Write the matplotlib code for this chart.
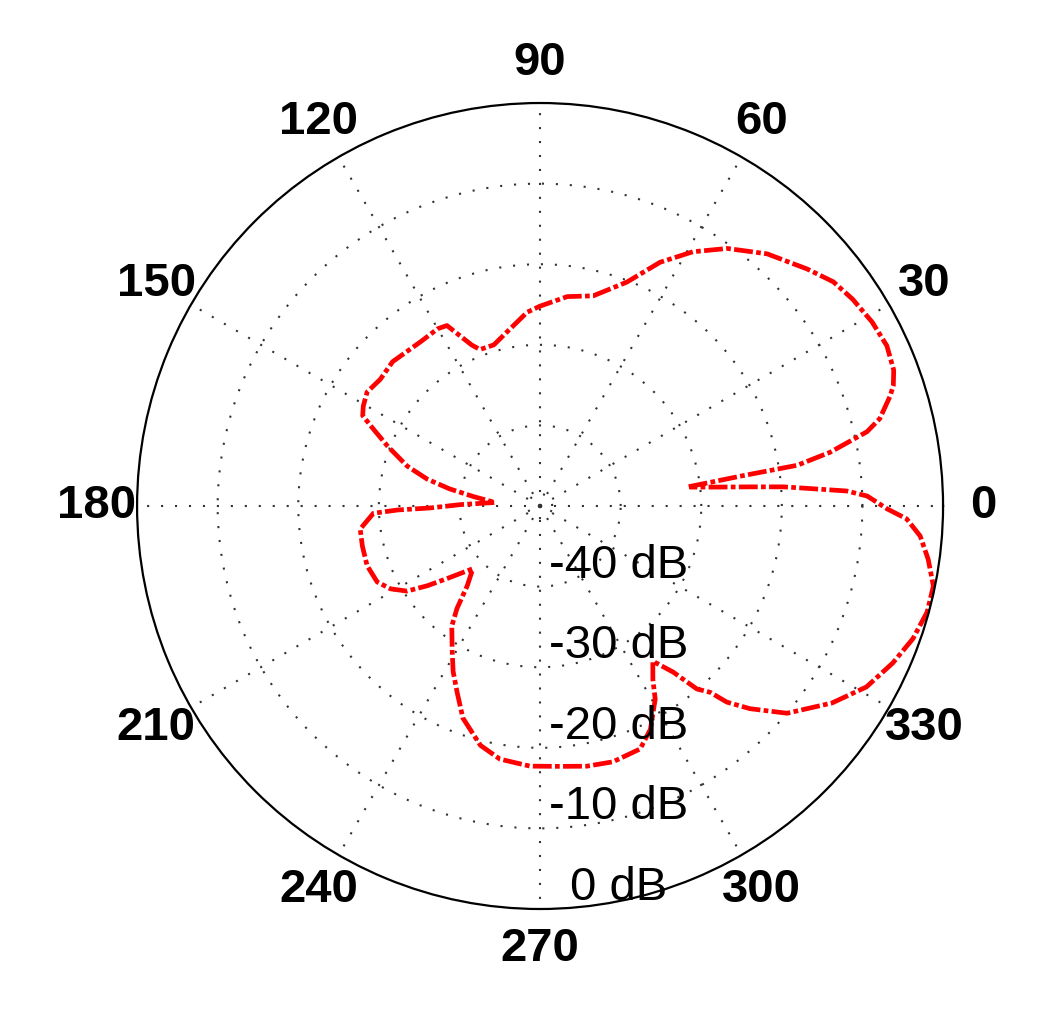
import matplotlib
matplotlib.use("Agg")
import matplotlib.pyplot as plt
import numpy as np

# pattern: angle (deg) and level (dB), in trace order
ang = [7.4, 8.5, 9.0, 10.5, 12.8, 14.4, 17.4, 18.8, 21, 24.8, 29, 33.5, 37.4, 41.6, 48,
       54, 59, 63.8, 68.8, 75.8, 82.6, 90, 93.8, 100.7, 106, 111, 113, 117.3, 120, 126,
       135.6, 141.6, 146.6, 150.5, 153, 155.2, 158.6, 163.3, 166.6, 169.3, 172, 175.5,
       179, 181, 181.6, 182.5, 187.3, 192.7, 199, 205, 209, 212.6, 215.3, 218, 223,
       227.6, 231, 233.7, 238.9, 242.3, 246, 250, 256, 261, 267.8, 274.4, 280.2, 285.9,
       292.4, 296.3, 300.8, 303, 306, 308.7, 310.6, 312.4, 313.6, 316, 320, 326, 331,
       336, 340.4, 344.7, 348.5, 352.2, 355.5, 358, 359.5, 361.75, 362.8, 363.5, 364.5,
       365.2, 366.1, 367.2]
db = [-31.4, -24.6, -17.7, -13.4, -8.4, -6.5, -4.5, -3.7, -3.0, -2.6, -2.9, -3.5, -4.2, -5.7, -7.9,
      -10.5, -13.2, -16.3, -20.2, -23.1, -23.8, -25.2, -25.9, -28.0, -29.2, -29.2, -28.3, -24.8, -24.6, -24.8,
      -24.4, -24.7, -24.3, -24.8, -25.3, -27.2, -29.7, -32.8, -35.6, -38.6, -41.7, -44.4,
      -40.1, -36.4, -32.3, -29.3, -27.5, -27.4, -27.3, -27.7, -28.8, -30.4, -32.9, -35.4, -38.6,
      -36.6, -33.6, -31.5, -28.9, -26.8, -24.7, -22.0, -19.4, -18.2, -17.7, -17.6, -17.2, -17.0,
      -17.4, -19.1, -22.1, -24.3, -26.2, -23.6, -20.1, -18.7, -16.4, -13.8, -10.0, -6.3, -3.7,
      -2.1, -0.9, -0.2, -0.2, -1.4, -2.7, -4.5, -6.9, -9.4, -11.9, -15.5, -19.7,
      -23.8, -27.9, -31.3]

rings = [-48.5, -40, -30, -20, -10]
ring_labels = ["-40 dB", "-30 dB", "-20 dB", "-10 dB", "0 dB"]
ring_vals = [-40, -30, -20, -10, 0]
theta_ticks = list(range(0, 360, 30))

plt.rcParams['font.family'] = ['Liberation Sans', 'DejaVu Sans']

fig = plt.figure(figsize=(10.43, 10.21), dpi=100)
ax = fig.add_axes([0.1314, 0.1097, 0.7728, 0.7894], projection='polar')
ax.set_ylim(-50, 0)
ax.set_rgrids(rings, labels=[''] * len(rings))
ax.set_thetagrids(theta_ticks, labels=[''] * len(theta_ticks))
ax.grid(True, color='#333333', linestyle=(0, (1, 5.7)), linewidth=1.5)
ax.spines['polar'].set_linewidth(1.6)
ax.spines['polar'].set_color('black')

ax.plot(np.deg2rad(ang), db, color='red', linewidth=3.4, linestyle=(0, (4, 0.7, 1, 0.7)))

for a in theta_ticks:
    ax.text(np.deg2rad(a), 5.0, str(a), ha='center', va='center', fontsize=34,
            fontweight='bold', clip_on=False)

# r labels sit just right of the 270 spoke
for v, t in zip(ring_vals, ring_labels):
    rpx = (v + 50) / 50 * 0.5
    ax.text(0.598, 0.5 - rpx + 0.026, t, transform=ax.transAxes, ha='center', va='center',
            fontsize=34)

fig.savefig("out.png", dpi=100)
